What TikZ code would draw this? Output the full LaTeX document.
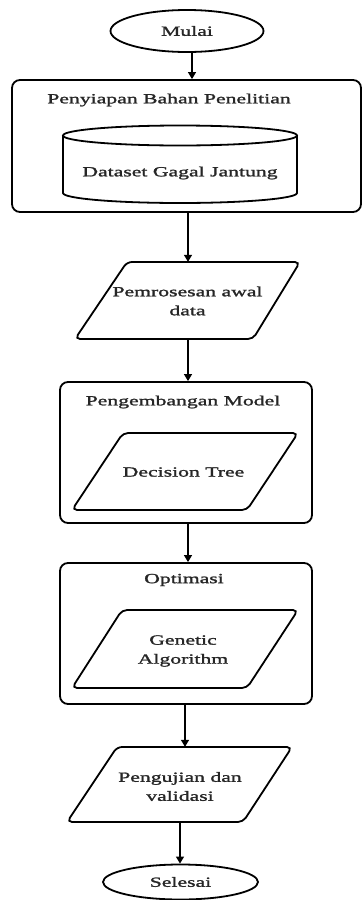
\documentclass[tikz,border=0pt]{standalone}
\usepackage{fontspec}
\setmainfont{Liberation Serif}[FakeStretch=1.55,FakeBold=1.6]
\usetikzlibrary{shapes.geometric,arrows.meta}
\begin{document}
\begin{tikzpicture}[x=1pt,y=-1pt,
  font=\fontsize{14}{19}\selectfont,
  shp/.style={draw, line width=1.8pt},
  arr/.style={-{Triangle[width=8pt,length=7pt]}, line width=1.3pt},
  txt/.style={align=center, inner sep=0pt, text=black!85},
  hold/.style={inner sep=0pt, align=center}]
\useasboundingbox (0,0) rectangle (364,900);

% Start
\node[ellipse, shp, minimum width=153pt, minimum height=42pt, inner sep=0pt, text=black!85] (mulai) at (187,31) {Mulai};

% Box 1
\node[shp, rounded corners=8pt, minimum width=349pt, minimum height=132pt] (box1) at (186.5,146) {};
\node[txt] (t1) at (169,100) {Penyiapan Bahan Penelitian};
\draw[shp] (63,135.5) -- (63,193) arc[start angle=180, end angle=360, x radius=117pt, y radius=10pt] -- (297,135.5);
\draw[shp] (180,135.5) ellipse[x radius=117pt, y radius=10pt];
\node[txt] (ds) at (180,173) {Dataset Gagal Jantung};

% Parallelogram 1
\draw[shp, rounded corners=5pt] (127,262) -- (300,262) -- (253,339) -- (75,339) -- cycle;
\node[hold, minimum width=120pt, minimum height=77pt] (p1) at (188,300.5) {};
\node[txt] (p1t) at (187.5,301) {Pemrosesan awal\\data};

% Box 2
\node[shp, rounded corners=8pt, minimum width=252pt, minimum height=141pt] (box2) at (186,452.5) {};
\node[txt] (t2) at (183,402) {Pengembangan Model};
\draw[shp, rounded corners=5pt] (123,433) -- (298,433) -- (247,510) -- (72,510) -- cycle;
\node[txt] (dt) at (183.5,472) {Decision Tree};

% Box 3
\node[shp, rounded corners=8pt, minimum width=252pt, minimum height=141pt] (box3) at (186,633.5) {};
\node[txt] (t3) at (184,580) {Optimasi};
\draw[shp, rounded corners=5pt] (122,610) -- (298,610) -- (247,688) -- (72,688) -- cycle;
\node[txt] (ga) at (183,651) {Genetic\\Algorithm};

% Parallelogram 4
\draw[shp, rounded corners=5pt] (117,747) -- (292,747) -- (243,822) -- (67,822) -- cycle;
\node[hold, minimum width=120pt, minimum height=75pt] (p4) at (180,784.5) {};
\node[txt] (p4t) at (180,786.5) {Pengujian dan\\validasi};

% End
\node[ellipse, shp, minimum width=155pt, minimum height=35pt, inner sep=0pt, text=black!85] (selesai) at (180.5,882) {Selesai};

% Connectors
\draw[arr] ([xshift=5pt]mulai.south) -- ([xshift=5pt]mulai.south |- box1.north);
\draw[arr] (p1.north |- box1.south) -- (p1.north);
\draw[arr] (p1.south) -- (p1.south |- box2.north);
\draw[arr] ([xshift=2pt]box2.south) -- ([xshift=2pt]box2.south |- box3.north);
\draw[arr] ([xshift=-1pt]box3.south) -- ([xshift=-1pt]box3.south |- p4.north);
\draw[arr] (p4.south) -- (p4.south |- selesai.north);
\end{tikzpicture}
\end{document}
